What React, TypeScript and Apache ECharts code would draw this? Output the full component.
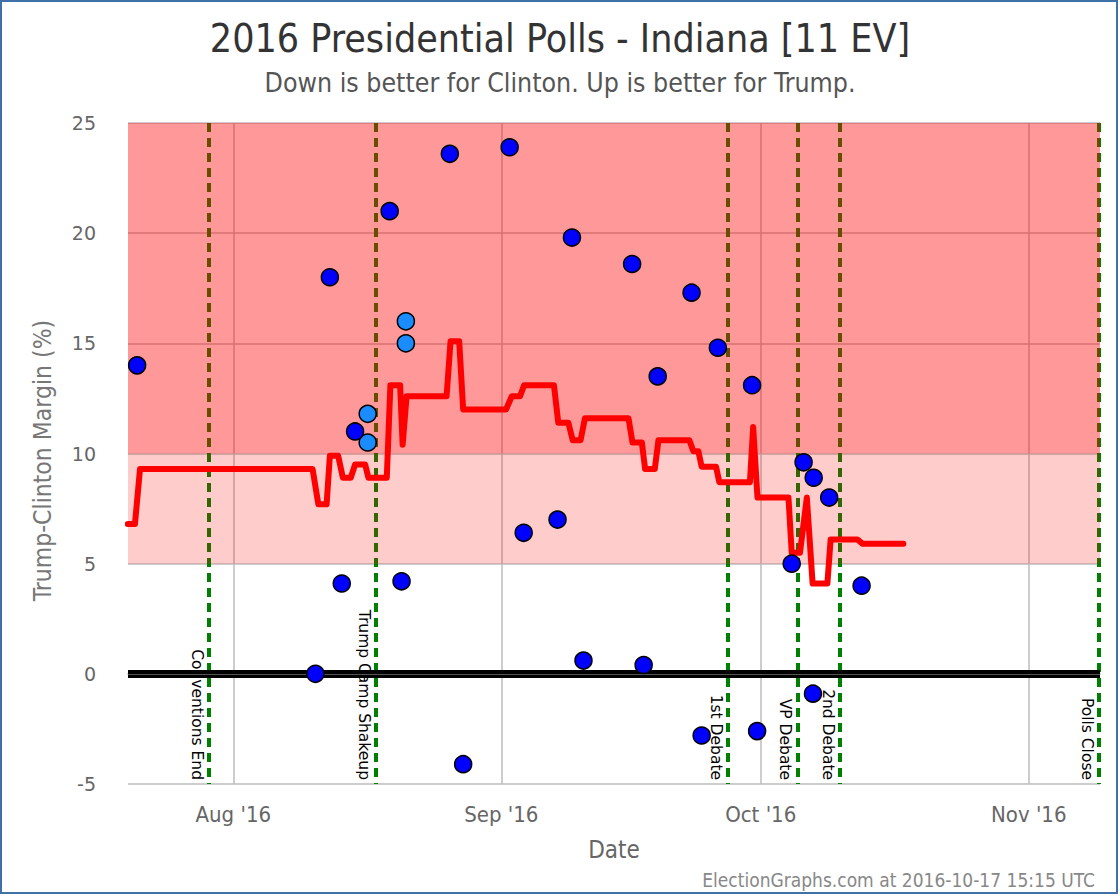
import React, { useEffect, useRef } from 'react';
import * as echarts from 'echarts';

// ---- Data ----
const monthTicks = ['2016-08-01T00:00Z', '2016-09-01T00:00Z', '2016-10-01T00:00Z', '2016-11-01T00:00Z'];
const monthLabels = ["Aug '16", "Sep '16", "Oct '16", "Nov '16"];
const yTicks = [-5, 0, 5, 10, 15, 20, 25];

const pollDates = [
  '2016-07-20T21:00Z', '2016-08-10T12:00Z', '2016-08-12T04:00Z', '2016-08-13T13:00Z',
  '2016-08-15T02:00Z', '2016-08-19T02:00Z', '2016-08-20T11:00Z', '2016-08-26T01:00Z',
  '2016-08-27T14:00Z', '2016-09-01T23:00Z', '2016-09-03T14:00Z', '2016-09-07T12:00Z',
  '2016-09-09T04:00Z', '2016-09-10T12:00Z', '2016-09-16T03:00Z', '2016-09-17T11:00Z',
  '2016-09-19T02:00Z', '2016-09-23T00:00Z', '2016-09-24T04:00Z', '2016-09-26T01:00Z',
  '2016-09-30T00:00Z', '2016-09-30T14:00Z', '2016-10-04T14:00Z', '2016-10-05T23:00Z',
  '2016-10-07T01:00Z', '2016-10-07T03:00Z', '2016-10-08T22:00Z', '2016-10-12T16:00Z',
];
const pollValues = [
  14.0, 0.0, 18.0, 4.1,
  11.0, 21.0, 4.2, 23.6,
  -4.1, 23.9, 6.4, 7.0,
  19.8, 0.6, 18.6, 0.4,
  13.5, 17.3, -2.8, 14.8,
  13.1, -2.6, 5.0, 9.6,
  -0.9, 8.9, 8.0, 4.0,
];

const altPollDates = ['2016-08-16T13:00Z', '2016-08-16T13:00Z', '2016-08-20T23:00Z', '2016-08-20T23:00Z'];
const altPollValues = [11.8, 10.5, 16.0, 15.0];

const avgDates = [
  '2016-07-19T19:00Z', '2016-07-20T15:00Z', '2016-07-21T05:00Z', '2016-08-10T04:00Z',
  '2016-08-10T20:00Z', '2016-08-11T19:00Z', '2016-08-12T04:00Z', '2016-08-13T03:00Z',
  '2016-08-13T16:00Z', '2016-08-14T14:00Z', '2016-08-15T02:00Z', '2016-08-16T06:00Z',
  '2016-08-16T15:00Z', '2016-08-18T18:00Z', '2016-08-19T04:00Z', '2016-08-20T07:00Z',
  '2016-08-20T14:00Z', '2016-08-21T01:00Z', '2016-08-25T16:00Z', '2016-08-26T03:00Z',
  '2016-08-27T03:00Z', '2016-08-27T14:00Z', '2016-09-01T13:00Z', '2016-09-02T05:00Z',
  '2016-09-03T04:00Z', '2016-09-03T15:00Z', '2016-09-07T02:00Z', '2016-09-07T14:00Z',
  '2016-09-08T18:00Z', '2016-09-09T06:00Z', '2016-09-10T04:00Z', '2016-09-10T16:00Z',
  '2016-09-15T17:00Z', '2016-09-16T04:00Z', '2016-09-17T06:00Z', '2016-09-17T15:00Z',
  '2016-09-18T18:00Z', '2016-09-19T04:00Z', '2016-09-22T18:00Z', '2016-09-23T05:00Z',
  '2016-09-23T19:00Z', '2016-09-24T04:00Z', '2016-09-25T20:00Z', '2016-09-26T05:00Z',
  '2016-09-29T18:00Z', '2016-09-30T03:00Z', '2016-09-30T15:00Z', '2016-10-04T05:00Z',
  '2016-10-04T14:00Z', '2016-10-05T13:00Z', '2016-10-06T08:00Z', '2016-10-07T00:00Z',
  '2016-10-08T17:00Z', '2016-10-09T02:00Z', '2016-10-12T04:00Z', '2016-10-12T19:00Z',
  '2016-10-17T12:00Z',
];
const avgValues = [
  6.8, 6.8, 9.3, 9.3,
  7.7, 7.7, 9.9, 9.9,
  8.9, 8.9, 9.5, 9.5,
  8.9, 8.9, 13.1, 13.1,
  10.4, 12.6, 12.6, 15.1,
  15.1, 12.0, 12.0, 12.6,
  12.6, 13.1, 13.1, 11.4,
  11.4, 10.6, 10.6, 11.6,
  11.6, 10.5, 10.5, 9.3,
  9.3, 10.6, 10.6, 10.1,
  10.1, 9.4, 9.4, 8.7,
  8.7, 11.2, 8.0, 8.0,
  5.5, 5.5, 8.0, 4.1,
  4.1, 6.1, 6.1, 5.9,
  5.9,
];

const eventNames = ['Conventions End', 'Trump Camp Shakeup', '1st Debate', 'VP Debate', '2nd Debate', 'Polls Close'];
const eventDates = ['2016-07-29T05:00Z', '2016-08-17T12:00Z', '2016-09-27T04:00Z', '2016-10-05T06:00Z', '2016-10-10T04:00Z', '2016-11-09T03:00Z'];

const xMin = '2016-07-19T19:40Z';
const xMax = '2016-11-09T05:45Z';
const yMin = -5;
const yMax = 25;
const strongBand = [10, 25];
const leanBand = [5, 10];

const t = (s: string) => Date.parse(s);

export default function App() {
  const ref = useRef<HTMLDivElement>(null);
  useEffect(() => {
    if (!ref.current) return;
    const chart = echarts.init(ref.current, undefined, { renderer: 'svg' });
    const tickTs = monthTicks.map(t);
    const condensed = "'DejaVu Sans Condensed', 'DejaVu Sans', sans-serif";
    chart.setOption({
      animation: false,
      backgroundColor: '#ffffff',
      title: [
        {
          text: '2016 Presidential Polls - Indiana [11 EV]',
          left: 'center', top: 14,
          textStyle: { fontFamily: condensed, fontSize: 39, fontWeight: 'normal', color: '#333' },
        },
        {
          text: 'Down is better for Clinton. Up is better for Trump.',
          left: 'center', top: 64,
          textStyle: { fontFamily: condensed, fontSize: 26.5, fontWeight: 'normal', color: '#555' },
        },
        {
          text: 'ElectionGraphs.com at 2016-10-17 15:15 UTC',
          right: 20, top: 865,
          textStyle: { fontFamily: condensed, fontSize: 19, fontWeight: 'normal', color: '#888' },
        },
      ],
      graphic: [
        {
          type: 'rect', shape: { x: 1, y: 1, width: 1116, height: 892 },
          style: { fill: 'none', stroke: '#4070a8', lineWidth: 2 }, silent: true, z: 100,
        },
      ],
      grid: { left: 128, top: 123, width: 972, height: 661, containLabel: false },
      xAxis: {
        type: 'value',
        min: t(xMin), max: t(xMax),
        name: 'Date', nameLocation: 'middle', nameGap: 54,
        nameTextStyle: { fontFamily: condensed, fontSize: 24, color: '#666' },
        axisLine: { show: true, lineStyle: { color: '#c5d3e6', width: 2 } },
        axisTick: { show: false, customValues: tickTs },
        axisLabel: {
          customValues: tickTs,
          margin: 19,
          fontFamily: condensed, fontSize: 22, color: '#666',
          formatter: (v: number) => {
            const i = tickTs.indexOf(v);
            return i >= 0 ? monthLabels[i] : '';
          },
        },
        splitLine: { show: true, lineStyle: { color: '#bdbdbd', width: 1.5 } },
      },
      yAxis: {
        type: 'value', min: yMin, max: yMax, interval: 5,
        name: 'Trump-Clinton Margin (%)', nameLocation: 'middle', nameGap: 73,
        nameTextStyle: { fontFamily: condensed, fontSize: 24.5, color: '#777', padding: [0, 14, 0, 0] },
        axisLine: { show: false }, axisTick: { show: false },
        axisLabel: {
          margin: 32, fontFamily: "'DejaVu Sans', sans-serif", fontSize: 19, color: '#666',
          formatter: (v: number) => (yTicks.indexOf(v) >= 0 ? String(v) : ''),
        },
        splitLine: { show: true, lineStyle: { color: '#bdbdbd', width: 1.5 } },
      },
      series: [
        {
          type: 'line', data: [], z: 1, silent: true,
          markLine: {
            z: 1,
            silent: true, symbol: ['none', 'none'], animation: false,
            lineStyle: { color: '#008000', width: 4, type: [9, 6] },
            label: {
              show: true, position: 'insideEndBottom', formatter: '{b}',
              fontFamily: "'DejaVu Sans', sans-serif", fontSize: 15.5, color: '#000', distance: 4,
            },
            data: eventDates.map((d, i) => [
              { name: eventNames[i], xAxis: t(d), yAxis: yMax },
              { name: eventNames[i], xAxis: t(d), yAxis: yMin },
            ]),
          },
        },
        {
          type: 'line', data: [], z: 2, silent: true,
          markArea: {
            z: 2,
            silent: true, animation: false,
            data: [
              [{ yAxis: strongBand[0], itemStyle: { color: 'rgba(255,0,0,0.4)', opacity: 1 } }, { yAxis: strongBand[1] }],
              [{ yAxis: leanBand[0], itemStyle: { color: 'rgba(255,0,0,0.2)', opacity: 1 } }, { yAxis: leanBand[1] }],
            ],
          },
          markLine: {
            z: 3,
            silent: true, symbol: ['none', 'none'], animation: false,
            label: { show: false },
            data: [
              { yAxis: 0, lineStyle: { color: '#000', width: 8, type: 'solid' } },
              { yAxis: 0, lineStyle: { color: '#555', width: 1, type: 'solid' } },
            ],
          },
        },
        {
          type: 'line', z: 4, silent: true,
          data: avgDates.map((d, i) => [t(d), avgValues[i]]),
          showSymbol: false, symbol: 'none',
          lineStyle: { color: '#ff0000', width: 6, cap: 'round', join: 'round' },
        },
        {
          type: 'scatter', z: 5, silent: true,
          data: altPollDates.map((d, i) => [t(d), altPollValues[i]]),
          symbolSize: 17,
          itemStyle: { color: '#1a8cff', borderColor: '#000', borderWidth: 1.5, opacity: 1 },
        },
        {
          type: 'scatter', z: 5, silent: true,
          data: pollDates.map((d, i) => [t(d), pollValues[i]]),
          symbolSize: 17,
          itemStyle: { color: '#0000ff', borderColor: '#000', borderWidth: 1.5, opacity: 1 },
        },
      ],
    });
    return () => chart.dispose();
  }, []);
  return (
    <div
      ref={ref}
      style={{ position: 'fixed', left: 0, top: 0, width: 1120, height: 896, background: '#fff' }}
    />
  );
}
